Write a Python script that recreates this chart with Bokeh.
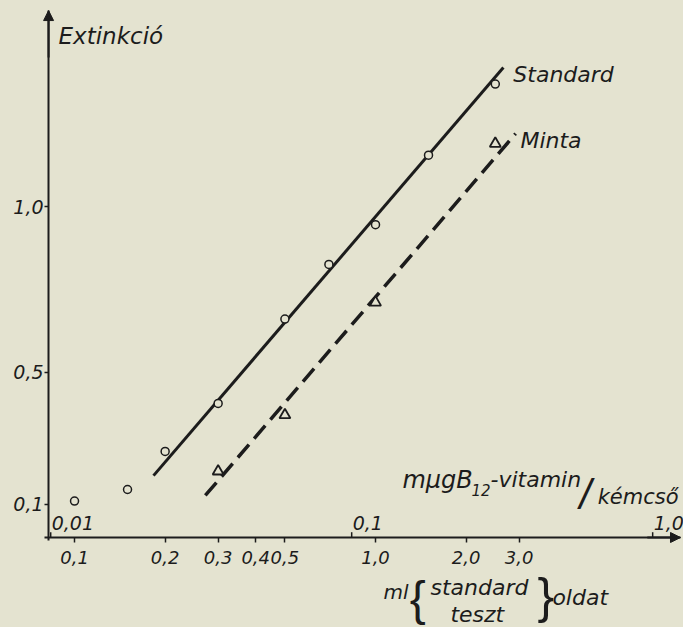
from bokeh.plotting import figure
from bokeh.models import (Range1d, LogScale, LogAxis, LinearAxis, FixedTicker,
                          CustomJSTickFormatter, Label, Arrow, NormalHead,
                          GlobalInlineStyleSheet)
from bokeh.embed import file_html
from bokeh.resources import INLINE

# ---------------- data ----------------
std_x = [0.1, 0.15, 0.2, 0.3, 0.5, 0.7, 1.0, 1.5, 2.5]
std_y = [0.11, 0.145, 0.26, 0.405, 0.66, 0.825, 0.945, 1.155, 1.37]
minta_x = [0.3, 0.5, 1.0, 2.5]
minta_y = [0.20, 0.37, 0.71, 1.19]
std_fit_x = [0.183, 2.66]
std_fit_y = [0.187, 1.42]
minta_fit_x = [0.272, 2.92]
minta_fit_y = [0.127, 1.22]
x_ticks = [0.1, 0.2, 0.3, 0.4, 0.5, 1.0, 2.0, 3.0]
y_ticks = [0.1, 0.5, 1.0]
ug_ticks = [0.01, 0.1, 1.0]
ug_labels = ["0,01", "0,1", "1,0"]
ug_per_ml = 0.12

# ---------------- style / layout ----------------
BG = "#e4e3d0"
INK = "#1c1c1c"
FONT = "DejaVu Sans"
# the frame covers the whole canvas; axes are drawn at fixed locations
X_LO, X_HI = 0.05676, 10.55
Y_LO, Y_HI = -0.2719, 1.6224
X_AXIS_POS = 0.0           # y value of the horizontal axis
Y_AXIS_POS = 0.0820        # x value of the vertical axis
X_AXIS_END = 10.31
Y_AXIS_END = 1.592
RAISE = 8                  # px, lift for alphabetic-baseline labels

p = figure(width=683, height=627, x_axis_type="log",
           x_axis_location=None, y_axis_location=None,
           x_range=Range1d(X_LO, X_HI), y_range=Range1d(Y_LO, Y_HI),
           output_backend="svg", toolbar_location=None,
           min_border=0)
p.stylesheets = [GlobalInlineStyleSheet(css=f"body{{background:{BG};}}")]
p.background_fill_color = BG
p.border_fill_color = BG
p.outline_line_color = None
p.grid.visible = False

fmt = "return tick.toFixed(1).replace('.', ',');"
xa = LogAxis(ticker=FixedTicker(ticks=x_ticks),
             formatter=CustomJSTickFormatter(code=fmt),
             fixed_location=X_AXIS_POS, bounds=(0.0794, X_AXIS_END))
ya = LinearAxis(ticker=FixedTicker(ticks=y_ticks),
                formatter=CustomJSTickFormatter(code=fmt),
                fixed_location=Y_AXIS_POS, bounds=(-0.01, Y_AXIS_END))
for ax in (xa, ya):
    ax.axis_line_color = INK
    ax.axis_line_width = 2
    ax.major_tick_line_color = INK
    ax.major_tick_line_width = 1.5
    ax.major_tick_in = 0
    ax.minor_tick_in = 0
    ax.minor_tick_out = 0
    ax.major_label_text_font = FONT
    ax.major_label_text_font_style = "italic"
    ax.major_label_text_color = INK
xa.major_label_text_font_size = "18px"
ya.major_label_text_font_size = "19px"
xa.major_tick_out = 5
xa.major_label_standoff = 8
ya.major_tick_out = 4
ya.major_label_standoff = 1
p.add_layout(xa, "below")
p.add_layout(ya, "left")

# upper scale (mμg B12 per tube) on the same axis line
p.extra_x_ranges = {"ug": Range1d(X_LO * ug_per_ml, X_HI * ug_per_ml)}
p.extra_x_scales = {"ug": LogScale()}
p.segment(x0=ug_ticks, y0=[X_AXIS_POS] * len(ug_ticks), x1=ug_ticks,
          y1=[X_AXIS_POS + 0.016] * len(ug_ticks),
          x_range_name="ug", line_color=INK, line_width=1.5)
for t, s in zip(ug_ticks, ug_labels):
    p.add_layout(Label(x=t, y=X_AXIS_POS + 0.024, x_range_name="ug", text=s,
                       x_offset=1, y_offset=7, text_align="left",
                       text_baseline="alphabetic",
                       text_font=FONT, text_font_style="italic",
                       text_font_size="19px", text_color=INK))

# axis arrows
p.add_layout(Arrow(x_start=Y_AXIS_POS, y_start=1.45, x_end=Y_AXIS_POS, y_end=Y_AXIS_END,
                   line_color=INK, line_width=2,
                   end=NormalHead(size=10, fill_color=INK, line_color=INK)))
p.add_layout(Arrow(x_start=8.0, y_start=X_AXIS_POS, x_end=X_AXIS_END, y_end=X_AXIS_POS,
                   line_color=INK, line_width=2,
                   end=NormalHead(size=10, fill_color=INK, line_color=INK)))

# lines and points
p.line(std_fit_x, std_fit_y, line_color=INK, line_width=3)
p.line(minta_fit_x, minta_fit_y, line_color=INK, line_width=3.5, line_dash="17 8")
p.scatter(std_x, std_y, marker="circle", size=8, fill_color=BG,
          line_color=INK, line_width=1.5)
p.scatter(minta_x, minta_y, marker="triangle", size=11, fill_color=BG,
          line_color=INK, line_width=1.8)

def lab(x, y, text, size="22px", style="italic", font=FONT, baseline="alphabetic"):
    off = RAISE if baseline == "alphabetic" else 0
    p.add_layout(Label(x=x, y=y, text=text, text_align="left", y_offset=off,
                       text_baseline=baseline, text_font=font,
                       text_font_style=style, text_font_size=size,
                       text_color=INK))

lab(0.0885, 1.492, "Extinkció", "23px")
lab(2.87, 1.375, "Standard", "22px")
lab(3.03, 1.175, "Minta", "22px")
lab(1.229, 0.151, "mμgB", "24px")
lab(2.084, 0.118, "12", "15px")
lab(2.41, 0.151, "-vitamin", "22px")
lab(4.76, 0.106, "/", "42px", font="Liberation Sans")
lab(5.47, 0.0967, "kémcső", "21px")
lab(1.063, -0.190, "ml", "20px")
lab(1.30, -0.184, "{", "48px", style="normal", font="Liberation Sans", baseline="middle")
lab(1.523, -0.175, "standard", "22px")
lab(1.774, -0.257, "teszt", "22px")
lab(3.45, -0.178, "}", "50px", style="normal", font="Liberation Sans", baseline="middle")
lab(3.87, -0.205, "oldat", "22px")

open("out.html", "w").write(file_html(p, INLINE))
